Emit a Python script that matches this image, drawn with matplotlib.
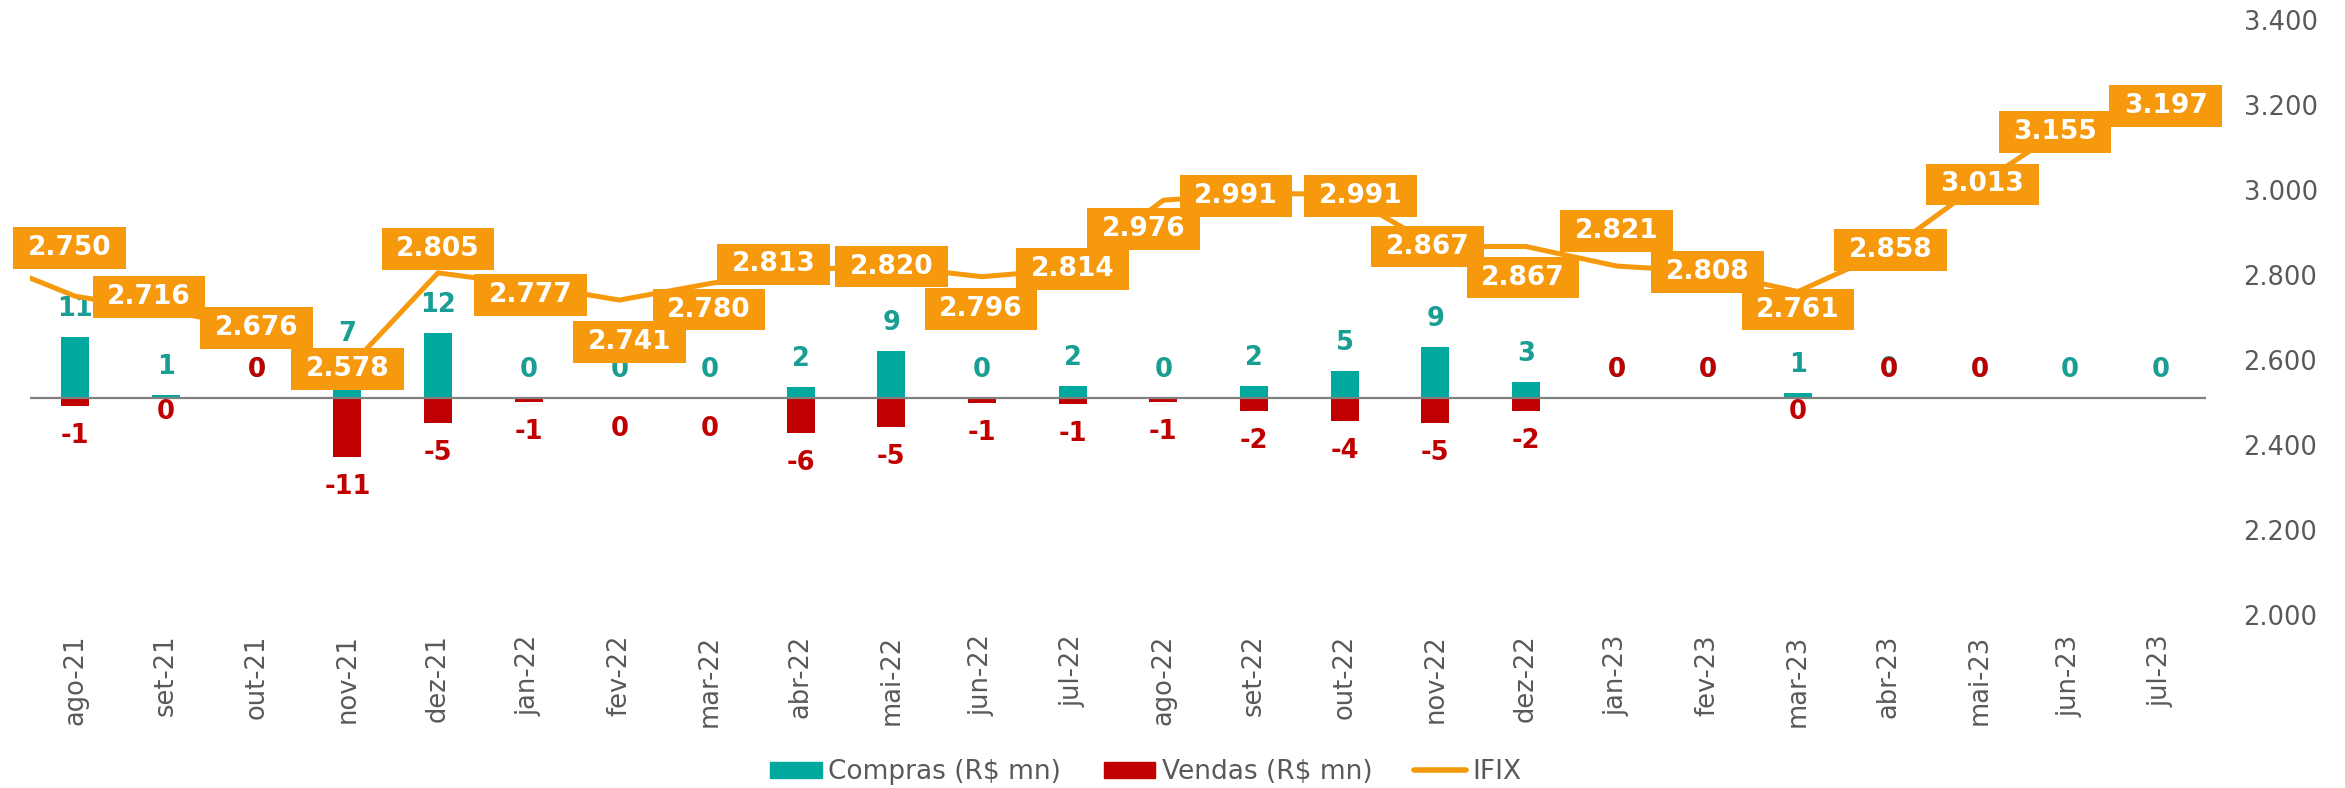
import matplotlib
matplotlib.use('Agg')
import matplotlib.pyplot as plt
import numpy as np
from matplotlib.path import Path
from matplotlib.lines import Line2D
from matplotlib.patches import Patch
from matplotlib.ticker import FuncFormatter, FixedLocator

# ---------------- data ----------------
months = ['ago-21', 'set-21', 'out-21', 'nov-21', 'dez-21', 'jan-22', 'fev-22', 'mar-22',
          'abr-22', 'mai-22', 'jun-22', 'jul-22', 'ago-22', 'set-22', 'out-22', 'nov-22',
          'dez-22', 'jan-23', 'fev-23', 'mar-23', 'abr-23', 'mai-23', 'jun-23', 'jul-23']
compras = [11.2, 0.6, 0.0, 6.6, 11.9, 0.0, 0.0, 0.0, 2.0, 8.6, 0.0, 2.2,
           0.0, 2.2, 5.0, 9.4, 2.9, 0.0, 0.0, 0.9, 0.2, 0.0, 0.0, 0.0]
vendas = [-1.4, -0.1, 0.0, -10.8, -4.6, -0.7, -0.1, -0.1, -6.4, -5.3, -0.9, -1.1,
          -0.7, -2.4, -4.2, -4.6, -2.4, 0.0, 0.0, -0.1, 0.0, 0.0, np.nan, np.nan]
ifix = [2750, 2716, 2676, 2578, 2805, 2777, 2741, 2780, 2813, 2820, 2796, 2814,
        2976, 2991, 2991, 2867, 2867, 2821, 2808, 2761, 2858, 3013, 3155, 3197]
ifix_previous = 2836  # jul-21, only the segment entering the chart is visible
ifix_ticks = [2000, 2200, 2400, 2600, 2800, 3000, 3200, 3400]

# ---------------- style ----------------
TEAL = '#00A99D'
TEAL_TXT = '#1A9E93'
RED = '#C00000'
ORANGE = '#F7990C'
GRAY = '#595959'

# label box offsets (pixels) for the IFIX labels
ifix_label_offsets = [(-6, 48), (-17, 14), (0, 0), (0, 0), (0, 24), (2, -10), (10, -42), (-1, -26),
                      (-27, 5), (0, 0), (-1, -32), (0, 0), (-20, -29), (-18, -2), (16, -2), (-8, 0),
                      (-3, -31), (0, 35), (0, 0), (0, -18), (2, 0), (3, 0), (-15, -8), (5, 0)]
vendas_label_dy = {1: -13, 19: -13}

W, H = 2345, 788
fig = plt.figure(figsize=(W / 100, H / 100), dpi=100)
ax = fig.add_axes([30 / W, 1 - 615 / H, 2176 / W, 595 / H])
ax2 = ax.twinx()

x = np.arange(len(months))
bw = 0.31
ax.bar(x, compras, width=bw, color=TEAL, zorder=2)
ax.bar(x, vendas, width=bw, color=RED, zorder=2)
ax.axhline(0, color='#808080', lw=1.6, zorder=3)
ax.set_xlim(-0.5, len(months) - 0.5)
ax.set_ylim(-39.8, 69.4)
ax.set_yticks([])

def fmt_int(v):
    return f"{int(round(v))}"

LBL = 18.5
for i, v in enumerate(compras):
    dy = 28 if v >= 0 else -29
    ax.annotate(fmt_int(v), xy=(i, v), xytext=(0, dy), textcoords='offset pixels',
                ha='center', va='center', fontsize=LBL, fontweight='bold', color=TEAL_TXT, zorder=4)
for i, v in enumerate(vendas):
    if np.isnan(v):
        continue
    if v == 0:
        dy = 28
    else:
        dy = vendas_label_dy.get(i, -30)
    ax.annotate(fmt_int(v), xy=(i, v), xytext=(0, dy), textcoords='offset pixels',
                ha='center', va='center', fontsize=LBL, fontweight='bold', color=RED, zorder=5)

# x ticks
ax.set_xticks(x)
ax.set_xticklabels(months, rotation=90, fontsize=18.5, color=GRAY)
ax.tick_params(axis='x', length=0, pad=14)
for s in ax.spines.values():
    s.set_visible(False)

# IFIX line
xl = np.concatenate([[-1], x])
yl = [ifix_previous] + ifix
ax2.plot(xl, yl, color=ORANGE, lw=3.6, solid_joinstyle='miter', zorder=2)
ax2.set_ylim(2000, 3400)
ax2.yaxis.set_major_locator(FixedLocator(ifix_ticks))
ax2.yaxis.set_major_formatter(FuncFormatter(lambda v, p: f"{v:,.0f}".replace(',', '.')))
ax2.tick_params(axis='y', length=0, pad=27, labelsize=18.5, labelcolor=GRAY)
for s in ax2.spines.values():
    s.set_visible(False)
ax2.set_xlim(-0.5, len(months) - 0.5)


def wide_box(x0, y0, width, height, mutation_size):
    padx = 0.55 * mutation_size
    pady = 0.30 * mutation_size
    x0, y0 = x0 - padx, y0 - pady
    w, h = width + 2 * padx, height + 2 * pady
    return Path([(x0, y0), (x0 + w, y0), (x0 + w, y0 + h), (x0, y0 + h), (x0, y0)],
                closed=True)


for i, v in enumerate(ifix):
    dx, dy = ifix_label_offsets[i]
    ax2.annotate(f"{v:,}".replace(',', '.'), xy=(i, v), xytext=(dx, dy), textcoords='offset pixels',
                 ha='center', va='center', fontsize=19, fontweight='bold', color='white',
                 bbox=dict(boxstyle=wide_box, fc=ORANGE, ec='none'), zorder=6)

handles = [Patch(color=TEAL, label='Compras (R$ mn)'),
           Patch(color=RED, label='Vendas (R$ mn)'),
           Line2D([], [], color=ORANGE, lw=4, solid_capstyle='round', label='IFIX')]
leg = fig.legend(handles=handles, loc='center', bbox_to_anchor=(1146 / W, 16 / H), ncol=3,
                 frameon=False, fontsize=19, handlelength=1.95, handleheight=0.57,
                 handletextpad=0.25, columnspacing=1.6, borderaxespad=0, borderpad=0)
for t in leg.get_texts():
    t.set_color(GRAY)

fig.savefig('out.png', dpi=100)
